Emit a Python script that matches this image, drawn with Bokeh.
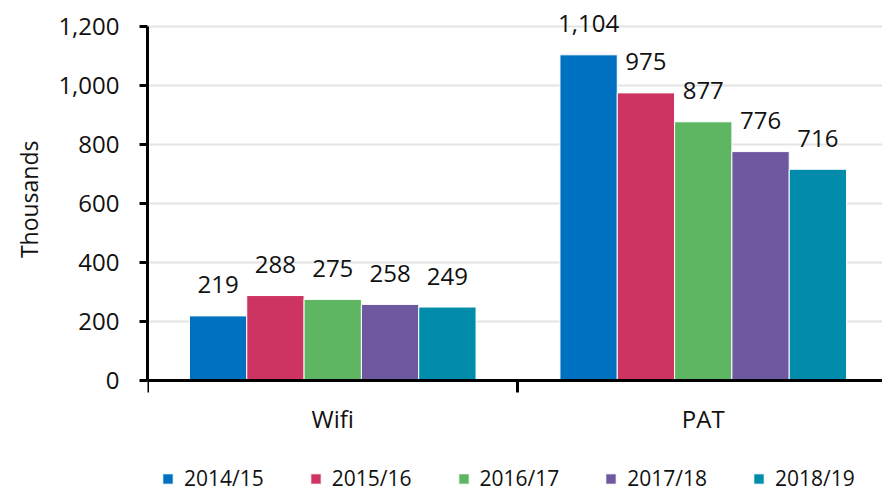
from bokeh.plotting import figure
from bokeh.models import (Range1d, FixedTicker, NumeralTickFormatter, Legend,
                          LegendItem, ColumnDataSource, Title)
from bokeh.core.properties import value
from bokeh.embed import file_html
from bokeh.resources import INLINE

categories = ["Wifi", "PAT"]
years = ["2014/15", "2015/16", "2016/17", "2017/18", "2018/19"]
wifi = [219, 288, 275, 258, 249]
pat = [1104, 975, 877, 776, 716]
colors = ["#0070C0", "#CE3462", "#5EB562", "#6E58A0", "#008CAA"]
y_ticks = [0, 200, 400, 600, 800, 1000, 1200]
y_title = "Thousands"

FONT = "Open Sans"
W, H = 882, 493
LEFT = 146
BASE = 380          # screen y of the zero line
PXU = 354.0 / 1200  # pixels per unit
frame_w = W - LEFT
cat_px = 371.0
x_end = frame_w / cat_px
y_start = -(H - BASE) / PXU
y_end = BASE / PXU

p = figure(width=W, height=H, output_backend="svg", toolbar_location=None,
           x_range=Range1d(0, x_end), y_range=Range1d(y_start, y_end),
           min_border_left=LEFT, min_border_right=0, min_border_top=0,
           min_border_bottom=0)
p.outline_line_color = None
p.background_fill_color = "white"

bw = 57.4 / cat_px
renderers = []
for i, yr in enumerate(years):
    vals = [wifi[i], pat[i]]
    xs = [c + 0.5 + (i - 2) * bw for c in range(len(categories))]
    src = ColumnDataSource(dict(x=xs, top=vals, lab=[f"{v:,}" for v in vals]))
    r = p.vbar(x="x", top="top", width=bw, source=src, fill_color=colors[i],
               line_color="white", line_width=1)
    renderers.append(r)
    p.text(x="x", y="top", text="lab", source=src, text_align="center",
           text_baseline="middle", y_offset=-31, text_font=value(FONT),
           text_font_size="24px", text_color="#111111")

# y axis
p.yaxis.ticker = FixedTicker(ticks=y_ticks)
p.yaxis.formatter = NumeralTickFormatter(format="0,0")
p.yaxis.bounds = (0, 1200)
p.yaxis.axis_line_width = 3
p.yaxis.axis_line_color = "black"
p.yaxis.major_tick_out = 8
p.yaxis.major_tick_in = 0
p.yaxis.major_tick_line_width = 3
p.yaxis.minor_tick_line_color = None
p.yaxis.major_label_standoff = 20
p.yaxis.major_label_text_font = FONT
p.yaxis.major_label_text_font_size = "24px"
p.yaxis.major_label_text_color = "#111111"

ytitle = Title(text=y_title, align="right", offset=140, text_font=FONT,
               text_font_size="23px", text_font_style="normal",
               text_color="#111111", standoff=21)
p.add_layout(ytitle, "left")

# x axis, drawn on the zero line
p.xaxis.fixed_location = 0
p.xaxis.ticker = FixedTicker(ticks=[0.5, 1.5], minor_ticks=[0, 1, 2])
p.xaxis.major_label_overrides = {0.5: categories[0], 1.5: categories[1]}
p.xaxis.axis_line_width = 3
p.xaxis.axis_line_color = "black"
p.xaxis.major_tick_out = 0
p.xaxis.major_tick_in = 0
p.xaxis.major_tick_line_color = None
p.xaxis.minor_tick_out = 12
p.xaxis.minor_tick_in = 0
p.xaxis.minor_tick_line_width = 3
p.xaxis.minor_tick_line_color = "black"
p.xaxis.major_label_standoff = 9
p.xaxis.major_label_text_font = FONT
p.xaxis.major_label_text_font_size = "24px"
p.xaxis.major_label_text_color = "#111111"

# grid
p.xgrid.visible = False
p.ygrid.ticker = FixedTicker(ticks=y_ticks)
p.ygrid.grid_line_color = "#e4e4e4"
p.ygrid.grid_line_width = 2

legend = Legend(items=[LegendItem(label=yr, renderers=[r]) for yr, r in zip(years, renderers)],
                orientation="horizontal", location=(14, 1),
                padding=0, margin=0, spacing=45, label_standoff=10,
                glyph_width=13, glyph_height=13,
                border_line_color=None, background_fill_alpha=0,
                label_text_font=FONT, label_text_font_size="21px",
                label_text_color="#111111")
p.add_layout(legend)

open("out.html", "w").write(file_html(p, INLINE))
